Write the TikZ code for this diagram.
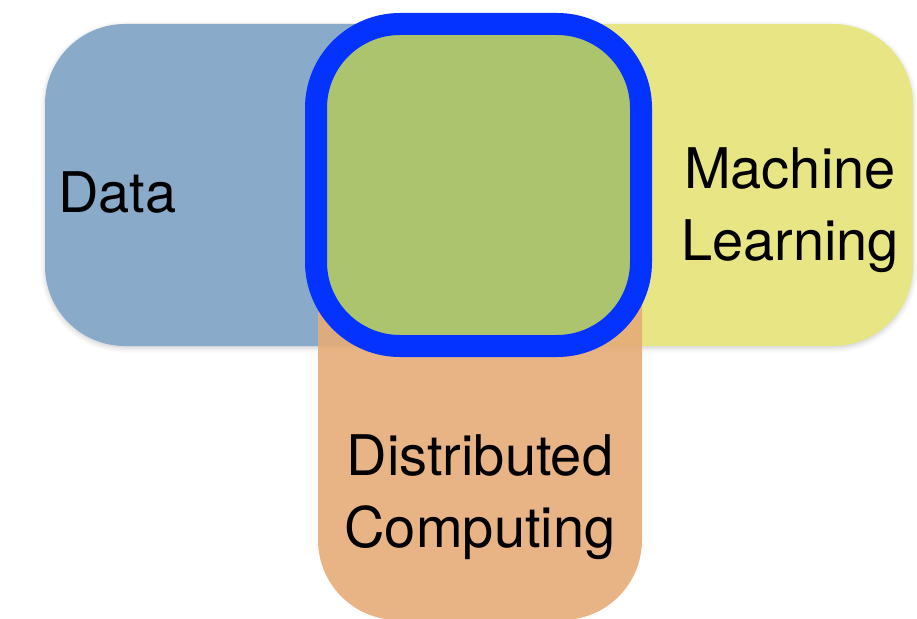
\documentclass[tikz,border=0pt]{standalone}
\usepackage{fontspec}
\setmainfont{TeX Gyre Heros}
\usetikzlibrary{shadows.blur}
\definecolor{databg}{HTML}{8AAACA}
\definecolor{mlbg}{HTML}{E8E684}
\definecolor{dcbg}{HTML}{E6AC78}
\definecolor{corebg}{HTML}{ADC46F}
\definecolor{coreline}{HTML}{0433FF}
\tikzset{
  area/.style={rectangle, rounded corners=80pt, inner sep=0pt, outer sep=0pt},
  soft/.style={blur shadow={shadow xshift=0pt, shadow yshift=-2pt, shadow blur radius=5pt, shadow opacity=20}},
  core/.style={rectangle, rounded corners=84pt, inner sep=0pt, outer sep=0pt,
    fill=corebg, draw=coreline, line width=22pt,
    blur shadow={shadow xshift=0pt, shadow yshift=-3pt, shadow blur radius=5pt, shadow opacity=25}},
  label/.style={inner sep=0pt, font=\fontsize{56}{72}\selectfont, text=black}
}
\begin{document}
\begin{tikzpicture}[x=1pt, y=-1pt]
  \useasboundingbox (0,0) rectangle (917,618);
  % the three fields
  \node[area, soft, fill=databg, minimum width=555pt, minimum height=322pt] (data) at (322.5,185) {};
  \node[area, soft, fill=mlbg, minimum width=583pt, minimum height=322pt] (ml) at (621.5,185) {};
  \node[area, fill=dcbg, fill opacity=0.9, minimum width=324pt, minimum height=520pt] (dc) at (480,360) {};
  % their intersection
  \node[core, minimum width=325pt, minimum height=322pt] (core) at (478.5,185) {};
  % labels (base anchor sits on the last line)
  \node[label, anchor=base west] (datalbl) at (58,212) {Data};
  \node[label, anchor=base, align=center] (mllbl) at (790,260) {Machine\\Learning};
  \node[label, anchor=base, align=center] (dclbl) at (480,547) {Distributed\\Computing};
\end{tikzpicture}
\end{document}
